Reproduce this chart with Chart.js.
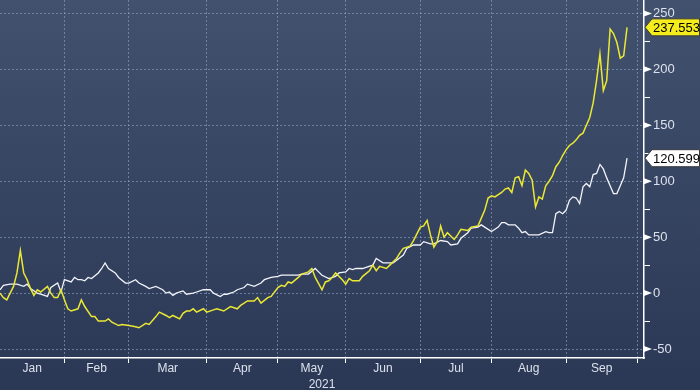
<!DOCTYPE html>
<html>
<head>
<meta charset="utf-8">
<title>2021</title>
<script src="https://cdn.jsdelivr.net/npm/chart.js@4.4.0/dist/chart.umd.min.js"></script>
<style>
  html, body { margin: 0; padding: 0; background: #2e3c5a; }
  #wrap { width: 700px; height: 390px; }
</style>
</head>
<body>
<div id="wrap"><canvas id="chart" width="700" height="390"></canvas></div>
<script>
// x values are trading-day numbers counted from the first session of 2021
const monthStarts = [0, 19, 38, 61, 82, 102, 124, 145, 167, 188];
const monthLabels = ['Jan', 'Feb', 'Mar', 'Apr', 'May', 'Jun', 'Jul', 'Aug', 'Sep'];
const yearLabel = '2021';
const yTicks = [-50, -25, 0, 25, 50, 75, 100, 125, 150, 175, 200, 225, 250];

const yellowDays = [0, 1, 2, 3, 4, 5, 6, 7, 8, 9, 10, 11, 12, 14, 15, 16, 17, 18, 19, 20,
  21, 23, 24, 25, 27, 28, 29, 31, 32, 33, 35, 36, 38, 40, 41, 43, 44, 46, 47, 49,
  50, 51, 53, 54, 55, 56, 57, 58, 60, 61, 63, 64, 66, 68, 70, 71, 73, 75, 76, 77,
  79, 80, 82, 83, 84, 85, 86, 88, 89, 91, 92, 93, 95, 96, 97, 98, 99, 101, 102, 103,
  104, 106, 107, 109, 110, 111, 112, 114, 115, 117, 118, 119, 121, 122, 124, 125, 126, 127, 128, 129,
  130, 131, 132, 134, 135, 136, 138, 139, 141, 142, 143, 144, 145, 146, 148, 149, 150, 151, 152, 153,
  154, 155, 156, 157, 158, 159, 160, 161, 162, 163, 164, 165, 166, 167, 168, 169, 170, 171, 172, 173,
  174, 175, 176, 177, 178, 179, 180, 181, 182, 183, 184, 185];
const yellowVals = [0, -4, -6, 0, 6, 18, 38, 18, 12, 4, -2, 3, 1, 6, 0, -4, -4, 3, -6, -14,
  -16, -14, -6, -12, -21, -21, -25, -25, -23, -26, -29, -28, -29, -30, -31, -27, -28, -21, -17, -20,
  -22, -20, -23, -18, -16, -16, -14, -17, -14, -17, -15, -14, -16, -12, -14, -11, -7, -7, -4, -9,
  -4, -3, 5, 7, 6, 10, 9, 14, 17, 19, 22, 14, 3, 10, 11, 14, 18, 12, 8, 13,
  11, 11, 15, 20, 25, 20, 24, 22, 25, 31, 36, 40, 42, 47, 59, 60, 65, 52, 41, 46,
  60, 50, 54, 48, 52, 57, 56, 59, 60, 67, 74, 85, 87, 86, 90, 93, 94, 90, 103, 104,
  96, 110, 107, 101, 77, 86, 84, 96, 100, 105, 113, 117, 123, 128, 132, 134, 137, 141, 143, 150,
  157, 170, 190, 214, 181, 190, 236, 232, 224, 210, 212, 237.553];

const whiteDays = [0, 1, 3, 5, 7, 8, 9, 11, 12, 14, 15, 17, 18, 19, 21, 22, 23, 24, 25, 26,
  27, 29, 30, 31, 32, 34, 35, 37, 38, 40, 41, 43, 44, 46, 48, 49, 50, 51, 52, 54,
  55, 57, 58, 60, 61, 62, 63, 65, 66, 67, 69, 70, 72, 73, 75, 77, 78, 80, 82, 83,
  86, 88, 89, 91, 93, 94, 95, 97, 99, 100, 102, 103, 104, 105, 107, 108, 110, 111, 113, 114,
  116, 119, 120, 122, 124, 125, 127, 128, 130, 132, 133, 135, 136, 138, 139, 141, 142, 143, 145, 147,
  148, 149, 150, 152, 153, 154, 155, 156, 158, 159, 161, 162, 163, 164, 165, 166, 167, 168, 169, 170,
  171, 172, 173, 174, 175, 176, 177, 178, 179, 180, 181, 182, 183, 184, 185];
const whiteVals = [3, 7, 8, 8, 6, 8, 4, 0, -1, -3, 5, 9, 1, 12, 10, 14, 12, 12, 11, 14,
  13, 18, 22, 27, 22, 18, 14, 9, 9, 12, 9, 6, 4, 6, 3, 0, 1, -2, 0, 2,
  -1, 0, 1, 3, 3, 3, 0, -3, -1, -1, 1, 3, 5, 8, 6, 9, 12, 14, 15, 16,
  16, 16, 17, 17, 22, 19, 16, 13, 15, 18, 19, 22, 21, 22, 22, 23, 25, 31, 27, 27,
  27, 34, 40, 43, 43, 46, 44, 44, 47, 46, 43, 44, 49, 54, 58, 59, 61, 59, 55, 59,
  63, 63, 61, 61, 58, 54, 55, 52, 52, 52, 55, 54, 54, 71, 73, 71, 74, 83, 86, 85,
  80, 95, 98, 95, 106, 107, 115, 111, 103, 96, 89, 89, 96, 103, 120.599];

const tagFill = ['#f4ec1c', '#ffffff'];
const labelFont = { family: 'Liberation Sans, Arial, sans-serif', size: 12 };
const axisText = '#dbe1ec';
const gridLine = 'rgba(135,158,196,0.65)';

const pair = (days, vals) => days.map((d, i) => ({ x: d, y: vals[i] }));

// background gradient behind everything
const backdrop = {
  id: 'backdrop',
  beforeDraw(chart) {
    const { ctx, width, height } = chart;
    const g = ctx.createLinearGradient(0, 0, 0, height);
    g.addColorStop(0, '#41516e');
    g.addColorStop(1, '#2b3855');
    ctx.save();
    ctx.fillStyle = g;
    ctx.fillRect(0, 0, width, height);
    ctx.restore();
  }
};

// pointer ticks on the value axis and the last-value tags
const markers = {
  id: 'markers',
  afterDraw(chart) {
    const { ctx } = chart;
    const ys = chart.scales.y;
    const left = ys.left;
    ctx.save();
    ctx.fillStyle = '#ffffff';
    yTicks.filter(v => v % 50 === 0).forEach(v => {
      const py = ys.getPixelForValue(v);
      ctx.beginPath();
      ctx.moveTo(left, py - 3);
      ctx.lineTo(left + 8, py);
      ctx.lineTo(left, py + 3);
      ctx.closePath();
      ctx.fill();
    });

    chart.data.datasets.forEach((ds, i) => {
      const last = ds.data[ds.data.length - 1];
      const py = ys.getPixelForValue(last.y);
      const h = 8.5;
      ctx.beginPath();
      ctx.moveTo(left + 1, py);
      ctx.lineTo(left + 8, py - h);
      ctx.lineTo(chart.width - 0.5, py - h);
      ctx.lineTo(chart.width - 0.5, py + h);
      ctx.lineTo(left + 8, py + h);
      ctx.closePath();
      ctx.fillStyle = tagFill[i];
      ctx.fill();
      ctx.lineWidth = 1;
      ctx.strokeStyle = '#3a3a3a';
      ctx.stroke();
      ctx.fillStyle = '#000000';
      ctx.font = '13px "Liberation Sans", Arial, sans-serif';
      ctx.textBaseline = 'middle';
      ctx.textAlign = 'left';
      ctx.fillText(last.y.toFixed(3), left + 9, py + 1);
    });
    ctx.restore();
  }
};

const ctx = document.getElementById('chart').getContext('2d');
const chart = new Chart(ctx, {
  type: 'line',
  data: {
    datasets: [
      {
        label: 'yellow',
        data: pair(yellowDays, yellowVals),
        borderColor: '#ebe834',
        borderWidth: 1.5,
        pointRadius: 0,
        tension: 0
      },
      {
        label: 'white',
        data: pair(whiteDays, whiteVals),
        borderColor: '#f2f4fa',
        borderWidth: 1.3,
        pointRadius: 0,
        tension: 0
      }
    ]
  },
  options: {
    responsive: false,
    animation: false,
    layout: { padding: 0 },
    plugins: {
      legend: { display: false },
      tooltip: { enabled: false }
    },
    scales: {
      x: {
        type: 'linear',
        position: 'bottom',
        weight: 0,
        min: 0,
        max: 190,
        afterBuildTicks: axis => {
          axis.ticks = monthStarts.slice(1).map(v => ({ value: v }));
        },
        afterFit: axis => {
          axis.height = 5;
          axis.paddingLeft = 0;
          axis.paddingRight = 0;
        },
        ticks: { display: false },
        grid: {
          color: gridLine,
          lineWidth: 1,
          drawTicks: true,
          tickLength: 5,
          tickColor: '#ffffff',
          tickWidth: 1
        },
        border: { display: true, color: '#ffffff', width: 1.5, dash: [2, 2] }
      },
      xl: {
        type: 'linear',
        position: 'bottom',
        weight: 1,
        min: 0,
        max: 190,
        afterBuildTicks: axis => {
          axis.ticks = monthLabels.map((m, i) => ({ value: (monthStarts[i] + monthStarts[i + 1]) / 2 }));
        },
        afterFit: axis => {
          axis.height = 27;
          axis.paddingLeft = 0;
          axis.paddingRight = 0;
        },
        ticks: {
          autoSkip: false,
          maxRotation: 0,
          padding: -2,
          color: axisText,
          font: labelFont,
          callback: (v, i) => monthLabels[i]
        },
        grid: { display: false, drawTicks: false },
        border: { display: false },
        title: {
          display: true,
          text: yearLabel,
          color: axisText,
          font: labelFont,
          padding: { top: 3, bottom: -2 }
        }
      },
      y: {
        type: 'linear',
        position: 'right',
        min: -58,
        max: 262,
        afterBuildTicks: axis => {
          axis.ticks = yTicks.map(v => ({ value: v }));
        },
        afterFit: axis => {
          axis.width = 56;
          axis.paddingTop = 0;
          axis.paddingBottom = 0;
        },
        ticks: {
          padding: 3,
          color: axisText,
          font: { family: 'Liberation Sans, Arial, sans-serif', size: 13 },
          callback: v => (v % 50 === 0 ? String(v) : '')
        },
        grid: {
          color: c => (c.tick && c.tick.value % 50 === 0 ? gridLine : 'rgba(0,0,0,0)'),
          lineWidth: 1,
          drawTicks: true,
          tickLength: 6,
          tickWidth: 1,
          tickColor: c => (c.tick && c.tick.value % 50 !== 0 ? '#ffffff' : 'rgba(0,0,0,0)')
        },
        border: { display: true, color: '#ffffff', width: 1.5, dash: [2, 2] }
      }
    }
  },
  plugins: [backdrop, markers]
});
</script>
</body>
</html>
